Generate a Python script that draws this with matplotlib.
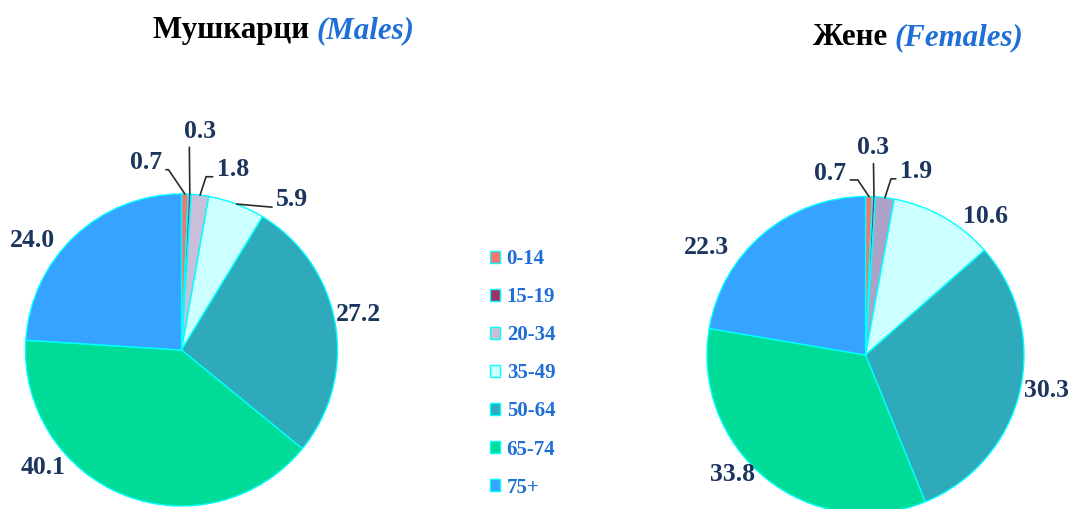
import matplotlib
matplotlib.use("Agg")
import numpy as np
import matplotlib.pyplot as plt

# ---- data ----
age_groups = ["0-14", "15-19", "20-34", "35-49", "50-64", "65-74", "75+"]
males = [0.7, 0.3, 1.8, 5.9, 27.2, 40.1, 24.0]
females = [0.7, 0.3, 1.9, 10.6, 30.3, 33.8, 22.3]

# ---- style ----
colors_m = ["#F7756F", "#993366", "#C9BFDA", "#CCFFFF", "#2FAABB", "#00DC98", "#35A3FF"]
colors_f = ["#F7756F", "#993366", "#ADA1C8", "#CCFFFF", "#2FAABB", "#00DC98", "#35A3FF"]
EDGE = "#00FFFF"
LABEL_COLOR = "#1B355E"
BLUE = "#1F6FD6"
SERIF = "Liberation Serif"

# label text positions in pie-radius units, and leader style per label
# (None = no leader; otherwise (kind, relpos, angleA, angleB))
pos_m = [(-0.23, 1.20), (0.12, 1.40), (0.33, 1.155), (0.71, 0.965),
         (1.135, 0.23), (-0.89, -0.75), (-0.955, 0.705)]
pos_f = [(-0.224, 1.148), (0.05, 1.306), (0.319, 1.155), (0.754, 0.871),
         (1.145, -0.221), (-0.836, -0.757), (-1.006, 0.681)]
lead_m = [("angle", (1.0, 0.2), 0, -56), ("line", (0.16, 0.08), None, None),
          ("angle", (0.0, 0.2), 0, 72), ("line", (0.0, 0.15), None, None),
          None, None, None]
lead_f = [("angle", (1.0, 0.2), 0, -56), ("line", (0.5, 0.08), None, None),
          ("angle", (0.0, 0.2), 0, 72), None, None, None, None]

W, H = 1070, 509
fig = plt.figure(figsize=(W / 100, H / 100), dpi=100)


def draw_pie(cx, cy, r, values, colors, positions, leaders):
    # cx, cy in pixels from top-left, r in pixels
    ax = fig.add_axes([(cx - r) / W, (H - cy - r) / H, 2 * r / W, 2 * r / H])
    wedges, _ = ax.pie(values, colors=colors, startangle=90, counterclock=False,
                       radius=1.0, wedgeprops=dict(edgecolor=EDGE, linewidth=1.0))
    ax.set_xlim(-1, 1)
    ax.set_ylim(-1, 1)
    ax.set_aspect("auto")
    ax.axis("off")
    for w, v, p, lead in zip(wedges, values, positions, leaders):
        mid = np.deg2rad((w.theta1 + w.theta2) / 2)
        xy = (np.cos(mid), np.sin(mid))
        txt = f"{v:.1f}"
        kw = dict(fontsize=18.5, fontweight="bold", family=SERIF, color=LABEL_COLOR,
                  ha="center", va="center")
        if lead is None:
            ax.text(p[0], p[1], txt, **kw)
            continue
        kind, relpos, a, b = lead
        if kind == "angle":
            cs = f"angle,angleA={a},angleB={b},rad=0"
        else:
            cs = "arc3,rad=0"
        ax.annotate(txt, xy=xy, xytext=p, annotation_clip=False,
                    arrowprops=dict(arrowstyle="-", color="#2B2B2B", lw=1.2,
                                    connectionstyle=cs, relpos=relpos,
                                    shrinkA=1, shrinkB=0),
                    **kw)
    return ax, wedges


ax_m, wedges_m = draw_pie(181.5, 350, 156, males, colors_m, pos_m, lead_m)
ax_f, wedges_f = draw_pie(865.5, 355, 158.5, females, colors_f, pos_f, lead_f)


def title(x_px, y_px, black, blue):
    t1 = fig.text(x_px / W, 1 - y_px / H, black, fontsize=22.2, fontweight="bold",
                  family=SERIF, color="black", ha="left", va="baseline")
    ax_m.annotate(blue, xy=(1, 0), xycoords=t1, ha="left", va="bottom",
                  fontsize=22.2, fontweight="bold", fontstyle="italic",
                  family=SERIF, color=BLUE, annotation_clip=False)


title(153, 38, "Мушкарци ", "(Males)")
title(813, 45, "Жене ", "(Females)")

leg = fig.legend(wedges_m, age_groups, loc="upper left",
                 bbox_to_anchor=(490 / W, 1 - 249 / H), frameon=False,
                 prop=dict(family=SERIF, weight="bold", size=15),
                 labelcolor=BLUE, handlelength=0.5, handleheight=0.5,
                 handletextpad=0.3, labelspacing=0.87, borderpad=0,
                 borderaxespad=0)

fig.savefig("out.png", dpi=100)
